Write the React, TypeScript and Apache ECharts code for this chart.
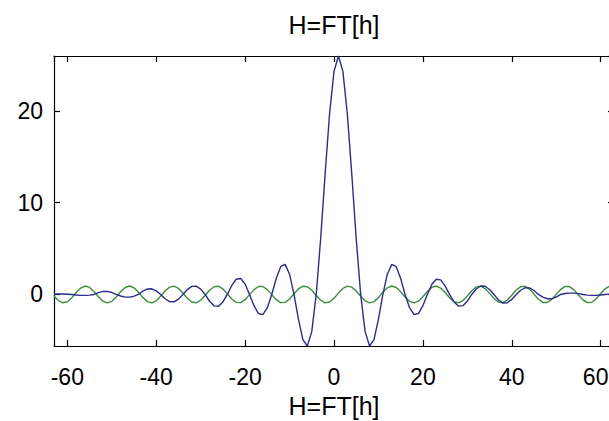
import React, { useEffect, useRef } from "react";
import * as echarts from "echarts";

// x positions (frequency bins)
const xs: number[] = [];
for (let i = -63; i <= 63; i++) xs.push(i);

const blueValues: number[] = [
  0.03, 0.05, 0.05, 0.03, 0, -0.06, -0.10, -0.10, -0.07, 0,
  0.20, 0.33, 0.34, 0.21, 0, -0.17, -0.29, -0.29, -0.19, 0,
  0.36, 0.60, 0.62, 0.39, 0, -0.47, -0.78, -0.80, -0.51, 0,
  0.53, 0.88, 0.91, 0.58, 0, -0.74, -1.24, -1.28, -0.82, 0,
  0.98, 1.66, 1.74, 1.13, 0, -1.22, -2.08, -2.20, -1.44, 0,
  1.74, 3.03, 3.28, 2.21, 0, -2.70, -4.92, -5.62, -4.05, 0,
  6.08, 13.12, 19.68, 24.32, 26.0, 24.32, 19.68, 13.12, 6.08, 0,
  -4.05, -5.62, -4.92, -2.70, 0, 2.21, 3.28, 3.03, 1.74, 0,
  -1.44, -2.20, -2.08, -1.22, 0, 1.08, 1.66, 1.59, 0.94, 0,
  -0.81, -1.27, -1.22, -0.73, 0, 0.59, 0.92, 0.89, 0.54, 0,
  -0.59, -0.93, -0.90, -0.54, 0, 0.46, 0.73, 0.71, 0.43, 0,
  -0.30, -0.47, -0.46, -0.28, 0, 0.10, 0.15, 0.15, 0.09, 0,
  -0.07, -0.10, -0.10, -0.06, 0, 0.04, 0.06,
];

// Imaginary part (green), x = -63 .. 63
const greenValues: number[] = [
  -0.17, -0.67, -0.91, -0.80, -0.37, 0.21, 0.70, 0.92, 0.77, 0.32,
  -0.25, -0.73, -0.92, -0.75, -0.28, 0.29, 0.76, 0.92, 0.72, 0.24,
  -0.34, -0.78, -0.92, -0.69, -0.20, 0.38, 0.80, 0.91, 0.66, 0.15,
  -0.42, -0.82, -0.91, -0.63, -0.11, 0.46, 0.84, 0.90, 0.60, 0.07,
  -0.49, -0.86, -0.89, -0.57, -0.02, 0.53, 0.87, 0.87, 0.53, -0.02,
  -0.57, -0.89, -0.86, -0.49, 0.07, 0.60, 0.90, 0.84, 0.46, -0.11,
  -0.63, -0.91, -0.82, -0.42, 0.15, 0.66, 0.91, 0.80, 0.38, -0.20,
  -0.69, -0.92, -0.78, -0.34, 0.24, 0.72, 0.92, 0.76, 0.29, -0.28,
  -0.75, -0.92, -0.73, -0.25, 0.32, 0.77, 0.92, 0.70, 0.21, -0.36,
  -0.80, -0.91, -0.67, -0.17, 0.40, 0.82, 0.91, 0.64, 0.12, -0.44,
  -0.84, -0.90, -0.61, -0.08, 0.48, 0.85, 0.89, 0.58, 0.04, -0.52,
  -0.87, -0.88, -0.54, 0.01, 0.55, 0.88, 0.86, 0.50, -0.05, -0.59,
  -0.89, -0.85, -0.47, 0.10, 0.62, 0.90, 0.83,
];

const xMin = -63;
const xMax = 63;
const yMin = -5.62;
const yMax = 26;
const titleText = "H=FT[h]";
const xLabelText = "H=FT[h]";

const FONT = "'Liberation Sans', Arial, Helvetica, sans-serif";

export default function App() {
  const ref = useRef<HTMLDivElement>(null);

  useEffect(() => {
    if (!ref.current) return;
    const chart = echarts.init(ref.current, undefined, { renderer: "svg" });

    const blueData = xs.map((x, i) => [x, blueValues[i]]);
    const greenData = xs.map((x, i) => [x, greenValues[i]]);

    const axisLine = { show: true, onZero: false, lineStyle: { color: "#000", width: 1.2 } };
    const tick = { show: true, inside: true, length: 6, lineStyle: { color: "#000", width: 1.2 } };

    const xBase = {
      type: "value",
      min: xMin,
      max: xMax,
      splitNumber: 6,
      minInterval: 20,
      maxInterval: 20,
      splitLine: { show: false },
      axisLine,
      axisTick: tick,
    };
    const yBase = {
      type: "value",
      min: yMin,
      max: yMax,
      splitNumber: 3,
      minInterval: 10,
      maxInterval: 10,
      splitLine: { show: false },
      axisLine,
      axisTick: tick,
    };

    chart.setOption({
      animation: false,
      backgroundColor: "#fff",
      grid: {
        left: 54,
        top: 56,
        bottom: 75,
        right: 6,
        containLabel: false,
        outerBoundsMode: "none",
      },
      graphic: [
        {
          type: "text",
          x: 334,
          y: 25,
          style: {
            text: titleText,
            align: "center",
            verticalAlign: "middle",
            fontSize: 25,
            fontFamily: FONT,
            fill: "#000",
          },
        },
      ],
      xAxis: [
        {
          ...xBase,
          position: "bottom",
          name: xLabelText,
          nameLocation: "middle",
          nameGap: 47,
          nameTextStyle: { fontSize: 25, fontFamily: FONT, color: "#000" },
          axisLabel: {
            show: true,
            margin: 19,
            fontSize: 23,
            fontFamily: FONT,
            color: "#000",
            showMinLabel: false,
            showMaxLabel: false,
            formatter: (v: number) => {
              if (Math.abs(v % 20) > 1e-9) return "";
              // the edge label is nudged left so that it stays inside the page
              return v >= 60 ? "{edge|" + String(v) + "}" : String(v);
            },
            rich: {
              edge: {
                fontSize: 23,
                fontFamily: FONT,
                color: "#000",
                padding: [0, 10, 0, 0],
              },
            },
          },
        },
        {
          ...xBase,
          position: "top",
          axisLabel: { show: false },
        },
      ],
      yAxis: [
        {
          ...yBase,
          position: "left",
          axisLabel: {
            show: true,
            margin: 11,
            fontSize: 23,
            fontFamily: FONT,
            color: "#000",
            showMinLabel: false,
            showMaxLabel: false,
            formatter: (v: number) => (Math.abs(v % 10) < 1e-9 ? String(v) : ""),
          },
        },
        {
          ...yBase,
          position: "right",
          axisLabel: { show: false },
        },
      ],
      series: [
        {
          type: "line",
          name: "Re H",
          data: blueData,
          showSymbol: false,
          symbol: "none",
          lineStyle: { color: "#2c2c8c", width: 1.4 },
          itemStyle: { color: "#2c2c8c" },
          z: 3,
        },
        {
          type: "line",
          name: "Im H",
          data: greenData,
          showSymbol: false,
          symbol: "none",
          lineStyle: { color: "#3d8d3d", width: 1.4 },
          itemStyle: { color: "#3d8d3d" },
          z: 2,
        },
      ],
    });

    return () => chart.dispose();
  }, []);

  return (
    <div
      ref={ref}
      style={{ position: "fixed", left: 0, top: 0, width: 620, height: 421, background: "#fff" }}
    />
  );
}
